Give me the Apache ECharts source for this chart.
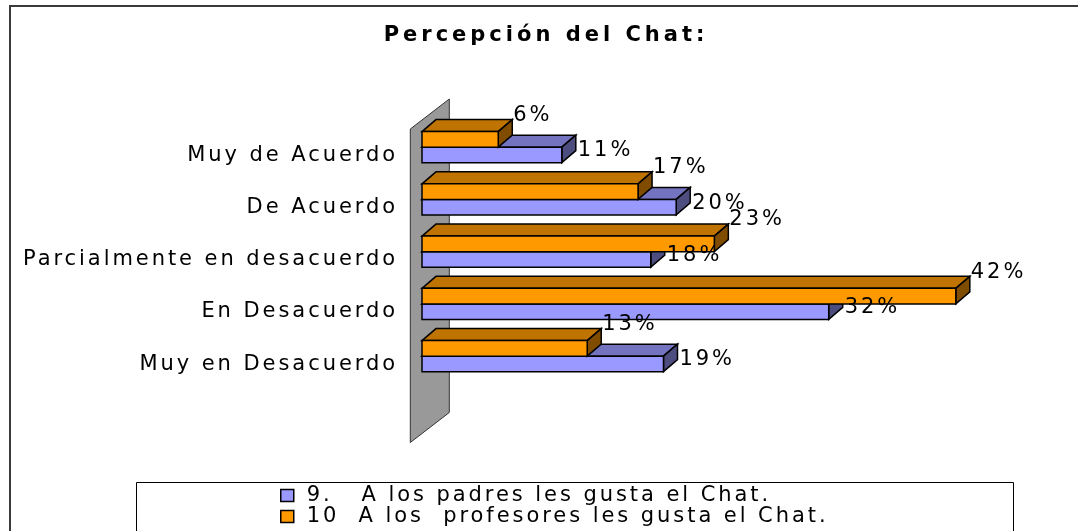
<!DOCTYPE html>
<html>
<head>
<meta charset="utf-8">
<script src="https://cdn.jsdelivr.net/npm/echarts@6/dist/echarts.min.js"></script>
<style>
html,body{margin:0;padding:0;background:#fff;}
#chart{width:1078px;height:531px;}
</style>
</head>
<body>
<div id="chart"></div>
<script>
// ---- data ----
const titleText = 'Percepción del Chat:';
const categories = ['Muy de Acuerdo', 'De Acuerdo', 'Parcialmente en desacuerdo', 'En Desacuerdo', 'Muy en Desacuerdo'];
const padres = [11, 20, 18, 32, 19];
const profesores = [6, 17, 23, 42, 13];
const seriesNames = ['9.   A los padres les gusta el Chat.', '10  A los  profesores les gusta el Chat.'];

// ---- widen text spacing (reference uses stretched lettering) ----
(function () {
  const proto = CanvasRenderingContext2D.prototype;
  const orig = proto.fillText;
  proto.fillText = function (t, x, y, mw) {
    if ('letterSpacing' in this) {
      const m = /(\d+(?:\.\d+)?)px/.exec(this.font);
      const bold = /bold|[6-9]00/.test(this.font);
      if (m) this.letterSpacing = (parseFloat(m[1]) * (bold ? 0.19 : 0.14)).toFixed(2) + 'px';
    }
    return mw === undefined ? orig.call(this, t, x, y) : orig.call(this, t, x, y, mw);
  };
})();

const FONT = 'DejaVu Sans';
const FS = 21;
const DX = 14, DY = 12;          // 3D depth of bars
const STROKE = { stroke: '#000', lineWidth: 1.5 };

const palettes = {
  blue: { front: '#9999FF', top: '#7373BF', side: '#4D4D80' },
  orange: { front: '#FF9900', top: '#BF7300', side: '#804D00' }
};

function makeBarRenderer(pal, upper, labelDX, labelDY, zBase) {
  return function (params, api) {
    const v = api.value(0);
    const ci = api.value(1);
    const p0 = api.coord([0, ci]);
    const p1 = api.coord([v, ci]);
    const band = api.size([0, 1])[1];
    const h = band * 0.297;
    const x0 = p0[0], x1 = p1[0];
    const yT = upper ? p0[1] - h : p0[1];
    const yB = yT + h;
    return {
      type: 'group',
      children: [
        { type: 'polygon', z2: zBase, shape: { points: [[x0, yT], [x0 + DX, yT - DY], [x1 + DX, yT - DY], [x1, yT]] },
          style: Object.assign({ fill: pal.top }, STROKE) },
        { type: 'polygon', z2: zBase, shape: { points: [[x1, yT], [x1 + DX, yT - DY], [x1 + DX, yB - DY], [x1, yB]] },
          style: Object.assign({ fill: pal.side }, STROKE) },
        { type: 'rect', z2: zBase, shape: { x: x0, y: yT, width: x1 - x0, height: h },
          style: Object.assign({ fill: pal.front }, STROKE) },
        { type: 'text', z2: 20, x: x1 + labelDX, y: (yT + yB) / 2 + labelDY,
          style: { text: v + '%', fill: '#000', font: FS + 'px "' + FONT + '"', textAlign: 'left', textVerticalAlign: 'middle' } }
      ]
    };
  };
}

function renderWall(params, api) {
  const c0 = api.coord([0, 0]);
  const band = api.size([0, 1])[1];
  const top = c0[1] - band / 2;
  const x0 = c0[0];
  const fx = x0 - 11.7, bx = x0 + 27.3;
  const fyT = top + 8, byT = top - 22;
  const fyB = fyT + band * 6, byB = byT + band * 6;
  return {
    type: 'polygon',
    z2: 0,
    shape: { points: [[fx, fyT], [bx, byT], [bx, byB], [fx, fyB]] },
    style: { fill: '#999999', stroke: '#333', lineWidth: 1 }
  };
}

const chart = echarts.init(document.getElementById('chart'), null, { renderer: 'canvas' });
chart.setOption({
  animation: false,
  backgroundColor: '#fff',
  grid: { left: 422, right: 20.5, top: 121, height: 261.25, outerBoundsMode: 'none', containLabel: false },
  xAxis: { type: 'value', min: 0, max: 50, show: false },
  yAxis: {
    type: 'category', data: categories, inverse: true,
    axisLine: { show: false }, axisTick: { show: false }, splitLine: { show: false },
    axisLabel: { margin: 24, fontSize: FS, fontFamily: FONT, color: '#000', verticalAlign: 'top', lineHeight: 16 }
  },
  legend: {
    orient: 'vertical', left: 280, top: 485, padding: 0, itemGap: 0,
    itemWidth: 13, itemHeight: 12, icon: 'rect',
    data: seriesNames,
    itemStyle: { borderColor: '#000', borderWidth: 1.5 },
    textStyle: { fontSize: FS, fontFamily: FONT, color: '#000', lineHeight: 20, padding: [0, 0, 0, 8] }
  },
  graphic: [
    { type: 'polyline', silent: true, z: 0, shape: { points: [[10, 540], [10, 6], [1090, 6]] }, style: { stroke: '#3a3a3a', lineWidth: 2, fill: null } },
    { type: 'rect', silent: true, z: 0, shape: { x: 136.5, y: 482.5, width: 877, height: 80 }, style: { stroke: '#000', lineWidth: 1, fill: null } },
    { type: 'text', silent: true, z: 5, x: 546, y: 36, style: { text: titleText, font: 'bold ' + FS + 'px "' + FONT + '"', fill: '#000', textAlign: 'center', textVerticalAlign: 'middle' } }
  ],
  series: [
    { type: 'custom', name: 'wall', silent: true, z: 2, clip: false, data: [[0, 0]], encode: { x: 0, y: 1 }, renderItem: renderWall },
    { type: 'custom', name: seriesNames[0], z: 2, clip: false, itemStyle: { color: palettes.blue.front },
      data: padres.map((v, i) => [v, i]), encode: { x: 0, y: 1 },
      renderItem: makeBarRenderer(palettes.blue, false, 16, -4, 2) },
    { type: 'custom', name: seriesNames[1], z: 2, clip: false, itemStyle: { color: palettes.orange.front },
      data: profesores.map((v, i) => [v, i]), encode: { x: 0, y: 1 },
      renderItem: makeBarRenderer(palettes.orange, true, 15, -24, 4) }
  ]
});
</script>
</body>
</html>
